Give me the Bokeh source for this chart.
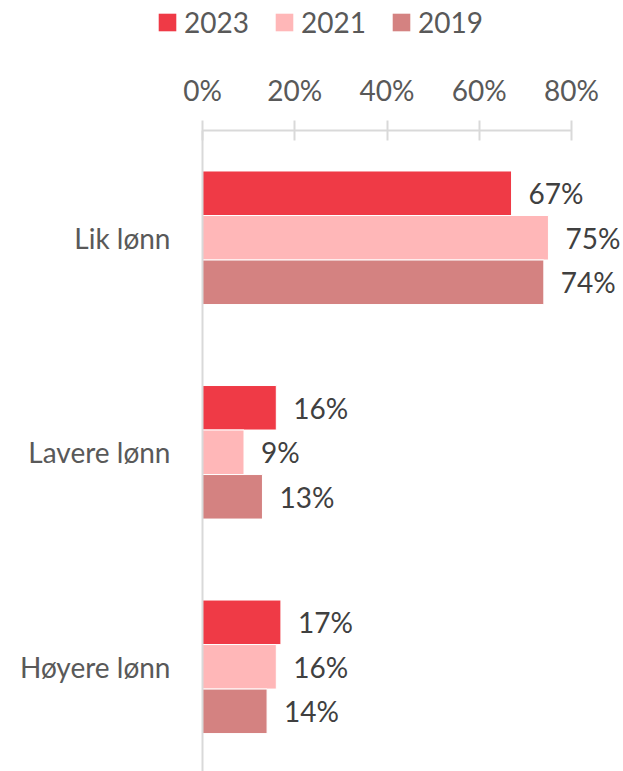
from bokeh.plotting import figure
from bokeh.layouts import column
from bokeh.models import (Range1d, FixedTicker, Legend, LegendItem, ColumnDataSource,
                          PrintfTickFormatter)
from bokeh.transform import dodge
from bokeh.core.properties import value
from bokeh.embed import file_html
from bokeh.resources import INLINE

# ---- data ----
categories = ["Lik lønn", "Lavere lønn", "Høyere lønn"]
years = ["2023", "2021", "2019"]
v2023 = [67, 16, 17]
v2021 = [75, 9, 16]
v2019 = [74, 13, 14]
tick_values = [0, 20, 40, 60, 80]

colors = ["#EF3A46", "#FFB7B8", "#D48281"]
FONT = "Lato"
FS = "28px"
series = [v2023, v2021, v2019]

ypos = list(range(len(categories)))
bar_h = 0.2075

# ---- legend strip (separate small figure on top) ----
lf = figure(width=623, height=44, output_backend="svg", toolbar_location=None,
            x_axis_location=None, y_axis_location=None, title=None,
            x_range=Range1d(0, 1), y_range=Range1d(0, 1),
            min_border=0)
lf.outline_line_color = None
lf.xgrid.visible = False
lf.ygrid.visible = False

# ---- main chart ----
p = figure(width=623, height=727, output_backend="svg", toolbar_location=None,
           x_axis_location="above", title=None,
           x_range=Range1d(0, 91.27), y_range=Range1d(2.488, -0.5),
           min_border_left=202, min_border_right=0, min_border_bottom=0,
           min_border_top=86)
p.outline_line_color = None
p.xgrid.visible = False
p.ygrid.visible = False
p.background_fill_color = "white"

for fig in (lf, p):
    if "frame_align" in fig.properties():
        fig.frame_align = False

items = []
for k, (yr, vals, col) in enumerate(zip(years, series, colors)):
    src = ColumnDataSource(dict(y=ypos, v=vals, lbl=[f"{v}%" for v in vals]))
    off = (k - 1) * bar_h
    p.hbar(y=dodge("y", off), left=0, right="v", height=bar_h, source=src,
           fill_color=col, line_color="white", line_width=1)
    p.text(x="v", y=dodge("y", off), text="lbl", source=src, x_offset=17,
           text_baseline="middle", text_align="left", text_font=value(FONT),
           text_font_size=FS, text_color="#404040")
    # hidden copy of the series in the legend strip, used only for its swatch
    sw = lf.hbar(y="y", left=0, right="v", height=bar_h, source=src,
                 fill_color=col, line_color=None, visible=False)
    items.append(LegendItem(label=yr, renderers=[sw]))

legend = Legend(items=items, orientation="horizontal", location=(156, 5),
                label_text_font=FONT, label_text_font_size=FS,
                label_text_color="#595959", glyph_width=22, glyph_height=22,
                label_standoff=6, spacing=24, padding=0, margin=0,
                inactive_fill_alpha=0,
                border_line_color=None, background_fill_alpha=0)
lf.add_layout(legend, "center")

xa = p.xaxis[0]
xa.ticker = FixedTicker(ticks=tick_values)
xa.formatter = PrintfTickFormatter(format="%d%%")
xa.bounds = (0, 80)
xa.major_tick_in = 10
xa.major_tick_out = 10
xa.minor_tick_line_color = None
xa.axis_line_color = "#D9D9D9"
xa.axis_line_width = 2
xa.major_tick_line_color = "#D9D9D9"
xa.major_tick_line_width = 2
xa.major_label_text_font = FONT
xa.major_label_text_font_size = FS
xa.major_label_text_color = "#595959"
xa.major_label_standoff = 14

ya = p.yaxis[0]
ya.ticker = FixedTicker(ticks=ypos)
ya.major_label_overrides = {i: c for i, c in enumerate(categories)}
ya.major_tick_in = 0
ya.major_tick_out = 0
ya.minor_tick_line_color = None
ya.axis_line_color = "#D9D9D9"
ya.axis_line_width = 2
ya.major_label_text_font = FONT
ya.major_label_text_font_size = FS
ya.major_label_text_color = "#595959"
ya.major_label_standoff = 32

layout = column(lf, p, spacing=0)
open("out.html", "w").write(file_html(layout, INLINE))
